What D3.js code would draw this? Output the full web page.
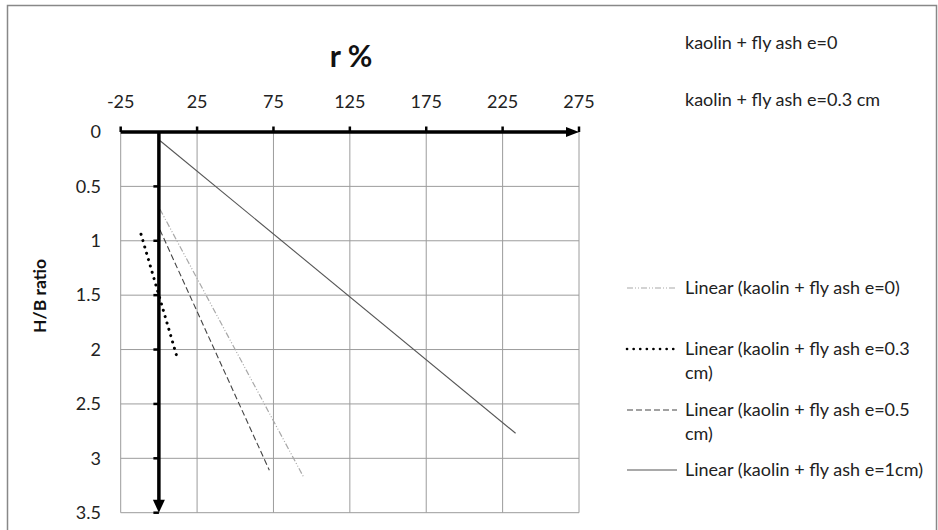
<!DOCTYPE html>
<html><head><meta charset="utf-8">
<script src="https://cdn.jsdelivr.net/npm/d3@7"></script>
<style>
html,body{margin:0;padding:0;background:#fff;}
svg{display:block;font-family:Lato,"Open Sans",sans-serif;}
</style></head>
<body><svg id="c" width="938" height="530"></svg>
<script>
// ---- data ----
const xTicks = [-25, 25, 75, 125, 175, 225, 275];
const yTicks = [0, 0.5, 1, 1.5, 2, 2.5, 3, 3.5];
const seriesNames = ["kaolin + fly ash e=0", "kaolin + fly ash e=0.3 cm"];
const trendNames = [
  ["Linear (kaolin + fly ash e=0)"],
  ["Linear (kaolin + fly ash e=0.3", "cm)"],
  ["Linear (kaolin + fly ash e=0.5", "cm)"],
  ["Linear (kaolin + fly ash e=1cm)"]
];
// trendline endpoints: r % (x) and H/B ratio (y)
const trendR  = [[0.7, 95.0], [-11.7, 12.5], [0.7, 72.3], [0.8, 233.5]];
const trendHB = [[0.71, 3.18], [0.94, 2.10], [0.90, 3.11], [0.08, 2.77]];

// ---- styles ----
const styles = [
  {stroke:"#a8a8a8", width:1.2, dash:"6,2,1,2,1,2", cap:"butt"},
  {stroke:"#000",    width:3,   dash:"0.1,6.5",     cap:"round"},
  {stroke:"#444",    width:1.1, dash:"6,3",         cap:"butt"},
  {stroke:"#555",    width:1.1, dash:null,          cap:"butt"}
];
const FS = 18;

const svg = d3.select("#c");
const x = d3.scaleLinear().domain([-25, 275]).range([120.7, 579]);
const y = d3.scaleLinear().domain([0, 3.5]).range([132, 512.7]);

// outer border
svg.append("rect").attr("x",7.5).attr("y",5.5).attr("width",929).attr("height",540)
  .attr("fill","none").attr("stroke","#888").attr("stroke-width",1.5);

// grid
const g = svg.append("g");
g.selectAll(".vg").data(xTicks).join("line")
  .attr("x1",d=>x(d)).attr("x2",d=>x(d)).attr("y1",y(0)).attr("y2",y(3.5))
  .attr("stroke","#9c9c9c").attr("stroke-width",1);
g.selectAll(".hg").data(yTicks).join("line")
  .attr("x1",x(-25)).attr("x2",x(275)).attr("y1",d=>y(d)).attr("y2",d=>y(d))
  .attr("stroke","#9c9c9c").attr("stroke-width",1);

// trendlines
const lineGen = d3.line().x(d=>x(d[0])).y(d=>y(d[1]));
trendR.forEach((r,i)=>{
  const pts = r.map((v,j)=>[v, trendHB[i][j]]);
  const s = styles[i];
  svg.append("path").attr("d", lineGen(pts)).attr("fill","none")
    .attr("stroke", s.stroke).attr("stroke-width", s.width)
    .attr("stroke-dasharray", s.dash).attr("stroke-linecap", s.cap);
});

// axes (thick, with arrows)
const ax = svg.append("g");
ax.append("line").attr("x1",x(-25)).attr("x2",x(275)-10).attr("y1",y(0)).attr("y2",y(0))
  .attr("stroke","#000").attr("stroke-width",3.5);
ax.append("path").attr("d",`M${x(275)-13},${y(0)-5}L${x(275)},${y(0)}L${x(275)-13},${y(0)+5}Z`).attr("fill","#000");
ax.selectAll(".xt").data(xTicks).join("line")
  .attr("x1",d=>x(d)).attr("x2",d=>x(d)).attr("y1",y(0)-5.5).attr("y2",y(0))
  .attr("stroke","#000").attr("stroke-width",2.5);
ax.append("line").attr("x1",x(0)).attr("x2",x(0)).attr("y1",y(0)).attr("y2",y(3.5)-10)
  .attr("stroke","#000").attr("stroke-width",3.5);
ax.append("path").attr("d",`M${x(0)-6},${y(3.5)-13}L${x(0)},${y(3.5)}L${x(0)+6},${y(3.5)-13}Z`).attr("fill","#000");
ax.selectAll(".yt").data(yTicks.slice(1)).join("line")
  .attr("x1",x(0)-5.5).attr("x2",x(0)).attr("y1",d=>y(d)).attr("y2",d=>y(d))
  .attr("stroke","#000").attr("stroke-width",2.5);

// tick labels
svg.selectAll(".xl").data(xTicks).join("text")
  .attr("x",d=>x(d)).attr("y",102).attr("dy","0.35em").attr("text-anchor","middle")
  .attr("font-size",FS).attr("fill","#222").text(d=>d);
svg.selectAll(".yl").data(yTicks).join("text")
  .attr("x",101).attr("y",d=>y(d)).attr("dy","0.35em").attr("text-anchor","end")
  .attr("font-size",FS).attr("fill","#222").text(d=>d);

// titles
svg.append("text").attr("x",351).attr("y",56).attr("dy","0.35em").attr("text-anchor","middle")
  .attr("font-size",30).attr("font-weight","bold").attr("fill","#111").text("r %");
svg.append("text").attr("transform","translate(40,296) rotate(-90)").attr("dy","0.35em")
  .attr("text-anchor","middle").attr("font-size",17.5).attr("font-weight","bold").attr("fill","#111").text("H/B ratio");

// legend: series names (no markers)
const seriesY = [43, 100];
svg.selectAll(".sl").data(seriesNames).join("text")
  .attr("x",685).attr("y",(d,i)=>seriesY[i]).attr("dy","0.35em")
  .attr("font-size",FS).attr("fill","#222").text(d=>d);

// legend: trendlines
const trendY = [288, 349, 410, 470];
trendNames.forEach((lines,i)=>{
  const s = styles[i];
  svg.append("line").attr("x1",627).attr("x2",677).attr("y1",trendY[i]).attr("y2",trendY[i])
    .attr("stroke",s.stroke).attr("stroke-width",i===1?2.6:s.width)
    .attr("stroke-dasharray",s.dash).attr("stroke-linecap",s.cap);
  const t = svg.append("text").attr("y",trendY[i])
    .attr("font-size",FS).attr("fill","#222");
  lines.forEach((ln,k)=>{
    t.append("tspan").attr("x",685).attr("dy",k===0?"0.35em":"24").text(ln);
  });
});
</script></body></html>
